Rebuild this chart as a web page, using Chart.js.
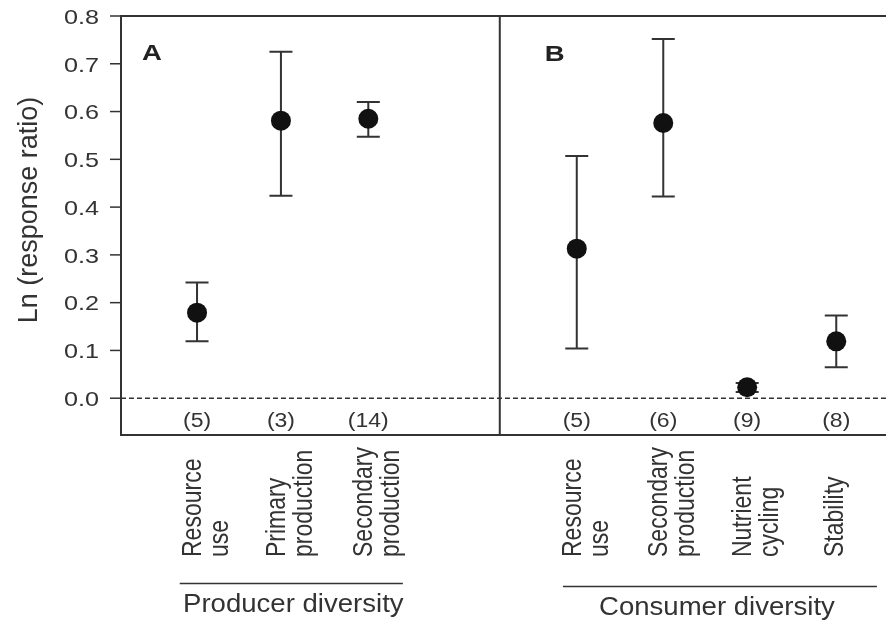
<!DOCTYPE html>
<html>
<head>
<meta charset="utf-8">
<script src="https://cdn.jsdelivr.net/npm/chart.js@4.4.1/dist/chart.umd.min.js"></script>
<style>
  body { margin: 0; background: #fff; }
  canvas { display: block; }
</style>
</head>
<body>
<canvas id="myChart" width="886" height="620"></canvas>
<script>
// data
const categories = [
  ['Resource', 'use'],
  ['Primary', 'production'],
  ['Secondary', 'production'],
  ['Resource', 'use'],
  ['Secondary', 'production'],
  ['Nutrient', 'cycling'],
  ['Stability']
];
const counts = ['(5)', '(3)', '(14)', '(5)', '(6)', '(9)', '(8)'];
const xPos = [1, 1.97, 2.98, 5.39, 6.39, 7.36, 8.39];
const means = [0.179, 0.581, 0.585, 0.313, 0.576, 0.023, 0.119];
const lower = [0.119, 0.424, 0.547, 0.104, 0.422, 0.013, 0.065];
const upper = [0.242, 0.725, 0.620, 0.507, 0.752, 0.032, 0.173];
const panelLabels = ['A', 'B'];
const groupTitles = ['Producer diversity', 'Consumer diversity'];
const yTitle = 'Ln (response ratio)';

// layout bits (x in scale units)
const panelSplit = 4.5;
const groupSpans = [[0.80, 3.38], [5.23, 8.86]];
const ink = '#333';
const family = '"Liberation Sans", Arial, sans-serif';

function stext(ctx, text, x, y, o) {
  ctx.save();
  ctx.translate(x, y);
  if (o.rot) ctx.rotate(o.rot);
  ctx.scale(o.sx || 1, o.sy || 1);
  ctx.font = o.font;
  ctx.fillStyle = o.color || ink;
  ctx.textAlign = o.align || 'center';
  ctx.textBaseline = o.baseline || 'alphabetic';
  ctx.fillText(text, 0, 0);
  ctx.restore();
}

const figure = {
  id: 'figure',
  beforeDraw(chart) {
    const ctx = chart.ctx;
    ctx.save();
    ctx.fillStyle = '#fff';
    ctx.fillRect(0, 0, chart.width, chart.height);
    ctx.restore();
  },
  beforeDatasetsDraw(chart) {
    const ctx = chart.ctx;
    const x = chart.scales.x, y = chart.scales.y;
    const a = chart.chartArea;
    ctx.save();
    // zero line
    ctx.strokeStyle = ink;
    ctx.lineWidth = 1.5;
    ctx.setLineDash([5, 3]);
    ctx.beginPath();
    ctx.moveTo(a.left, y.getPixelForValue(0));
    ctx.lineTo(a.right, y.getPixelForValue(0));
    ctx.stroke();
    ctx.setLineDash([]);
    // error bars
    ctx.lineWidth = 2;
    xPos.forEach((v, i) => {
      const px = x.getPixelForValue(v);
      const top = y.getPixelForValue(upper[i]);
      const bot = y.getPixelForValue(lower[i]);
      ctx.beginPath();
      ctx.moveTo(px, top); ctx.lineTo(px, bot);
      ctx.moveTo(px - 11.5, top); ctx.lineTo(px + 11.5, top);
      ctx.moveTo(px - 11.5, bot); ctx.lineTo(px + 11.5, bot);
      ctx.stroke();
    });
    ctx.restore();
  },
  afterDraw(chart) {
    const ctx = chart.ctx;
    const x = chart.scales.x, y = chart.scales.y;
    const a = chart.chartArea;
    ctx.save();
    // box (right edge falls off the picture)
    ctx.strokeStyle = ink;
    ctx.lineWidth = 2;
    ctx.beginPath();
    ctx.moveTo(a.right, a.top); ctx.lineTo(a.left, a.top);
    ctx.lineTo(a.left, a.bottom); ctx.lineTo(a.right, a.bottom);
    const sx = x.getPixelForValue(panelSplit);
    ctx.moveTo(sx, a.top); ctx.lineTo(sx, a.bottom);
    ctx.stroke();

    // y ticks + labels
    ctx.lineWidth = 1.5;
    y.ticks.forEach(t => {
      if (t.value < -1e-9) return;
      const py = y.getPixelForValue(t.value);
      ctx.beginPath();
      ctx.moveTo(a.left - 11, py); ctx.lineTo(a.left, py);
      ctx.stroke();
      stext(ctx, t.value.toFixed(1), a.left - 22, py + 2,
        { font: '21px ' + family, align: 'right', baseline: 'middle', sx: 1.2 });
    });
    stext(ctx, yTitle, 37, 210,
      { font: '27px ' + family, rot: -Math.PI / 2, align: 'center' });

    // panel letters
    stext(ctx, panelLabels[0], a.left + 21, 60,
      { font: 'bold 22px ' + family, align: 'left', sx: 1.25, color: '#222' });
    stext(ctx, panelLabels[1], sx + 45, 61,
      { font: 'bold 22px ' + family, align: 'left', sx: 1.25, color: '#222' });

    // counts and category labels
    xPos.forEach((v, i) => {
      const px = x.getPixelForValue(v);
      stext(ctx, counts[i], px, 421,
        { font: '20px ' + family, baseline: 'middle', sx: 1.15 });
      const lines = categories[i];
      lines.forEach((ln, j) => {
        const bx = lines.length === 1 ? px + 7 : px + 4 + 27 * j;
        stext(ctx, ln, bx, 557,
          { font: '23px ' + family, rot: -Math.PI / 2, align: 'left', sy: 1.2 });
      });
    });

    // group titles
    const lineY = [583.5, 586.5];
    const textY = [612, 615];
    groupSpans.forEach((s, k) => {
      const x0 = x.getPixelForValue(s[0]), x1 = x.getPixelForValue(s[1]);
      ctx.strokeStyle = ink;
      ctx.lineWidth = 1.5;
      ctx.beginPath();
      ctx.moveTo(x0, lineY[k]); ctx.lineTo(x1, lineY[k]);
      ctx.stroke();
      const cx = k === 0 ? (x0 + x1) / 2 + 2 : (x0 + x1) / 2 - 3;
      stext(ctx, groupTitles[k], cx, textY[k],
        { font: '26px ' + family, sx: 1.06 });
    });
    ctx.restore();
  }
};

const data = {
  datasets: [{
    data: xPos.map((v, i) => ({ x: v, y: means[i] })),
    pointRadius: 10,
    pointHoverRadius: 10,
    backgroundColor: '#111',
    borderWidth: 0
  }]
};

const config = {
  type: 'scatter',
  data: data,
  options: {
    responsive: false,
    animation: false,
    events: [],
    layout: { autoPadding: false, padding: { left: 121, top: 16, right: 0, bottom: 185 } },
    plugins: { legend: { display: false }, tooltip: { enabled: false } },
    scales: {
      x: { type: 'linear', display: false, min: 0.121, max: 8.965 },
      y: { display: false, min: -0.077, max: 0.8, ticks: { stepSize: 0.1 } }
    }
  },
  plugins: [figure]
};

const myChart = new Chart(document.getElementById('myChart'), config);
</script>
</body>
</html>
